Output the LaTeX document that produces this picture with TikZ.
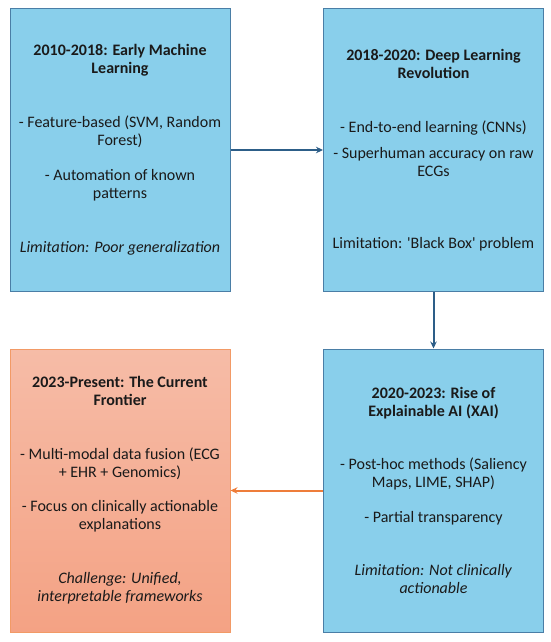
\documentclass[tikz,border=0pt]{standalone}
\usepackage{fontspec}
\setmainfont{Carlito}
\usetikzlibrary{arrows.meta}
\definecolor{boxblue}{HTML}{89CFEB}
\definecolor{blueedge}{HTML}{4A7EA6}
\definecolor{bluearrow}{HTML}{2D5E88}
\definecolor{orangetop}{HTML}{F6BCA7}
\definecolor{orangebot}{HTML}{F4A284}
\definecolor{orangeedge}{HTML}{F29A66}
\definecolor{orangearrow}{HTML}{EE7D3A}
\definecolor{txt}{HTML}{1A1A1A}
\tikzset{
  era/.style={rectangle, minimum width=220pt, minimum height=282pt, inner sep=0pt,
    align=center, font=\fontsize{16}{18}\selectfont, text=txt, line width=1pt},
  blueera/.style={era, fill=boxblue, draw=blueedge},
  orangeera/.style={era, top color=orangetop, bottom color=orangebot, draw=orangeedge},
  bluearr/.style={draw=bluearrow, line width=2pt, -{Stealth[length=7pt,width=6.5pt]}},
  orangearr/.style={draw=orangearrow, line width=2pt, -{Stealth[length=7pt,width=6.5pt]}}
}
\begin{document}
\begin{tikzpicture}[x=1pt,y=-1pt]
\useasboundingbox (0,0) rectangle (550,642);
\node[blueera] (b1) at (120,150) {\textbf{2010-2018: Early Machine}\\\textbf{Learning}\\[36pt]
- Feature-based (SVM, Random\\Forest)\\[17pt]
- Automation of known\\patterns\\[36pt]
\textit{Limitation: Poor generalization}};
\node[blueera] (b2) at (433.5,150) {\textbf{2018-2020: Deep Learning}\\\textbf{Revolution}\\[36pt]
- End-to-end learning (CNNs)\\[8pt]
- Superhuman accuracy on raw\\ECGs\\[54pt]
Limitation: \textquotesingle Black Box\textquotesingle{} problem};
\node[blueera, minimum height=283pt] (b4) at (433.5,490.5) {\textbf{2020-2023: Rise of}\\\textbf{Explainable AI (XAI)}\\[35pt]
- Post-hoc methods (Saliency\\Maps, LIME, SHAP)\\[17pt]
- Partial transparency\\[35pt]
\textit{Limitation: Not clinically}\\\textit{actionable}};
\node[orangeera, minimum height=283pt] (b3) at (120,490.5) {\textbf{2023-Present: The Current}\\\textbf{Frontier}\\[36pt]
- Multi-modal data fusion (ECG\\+ EHR + Genomics)\\[16pt]
- Focus on clinically actionable\\explanations\\[36pt]
\textit{Challenge: Unified,}\\\textit{interpretable frameworks}};
\draw[bluearr] (b1.east) -- (b2.west);
\draw[bluearr] (b2.south) -- (b4.north);
\draw[orangearr] (b4.west) -- (b3.east);
\end{tikzpicture}
\end{document}
